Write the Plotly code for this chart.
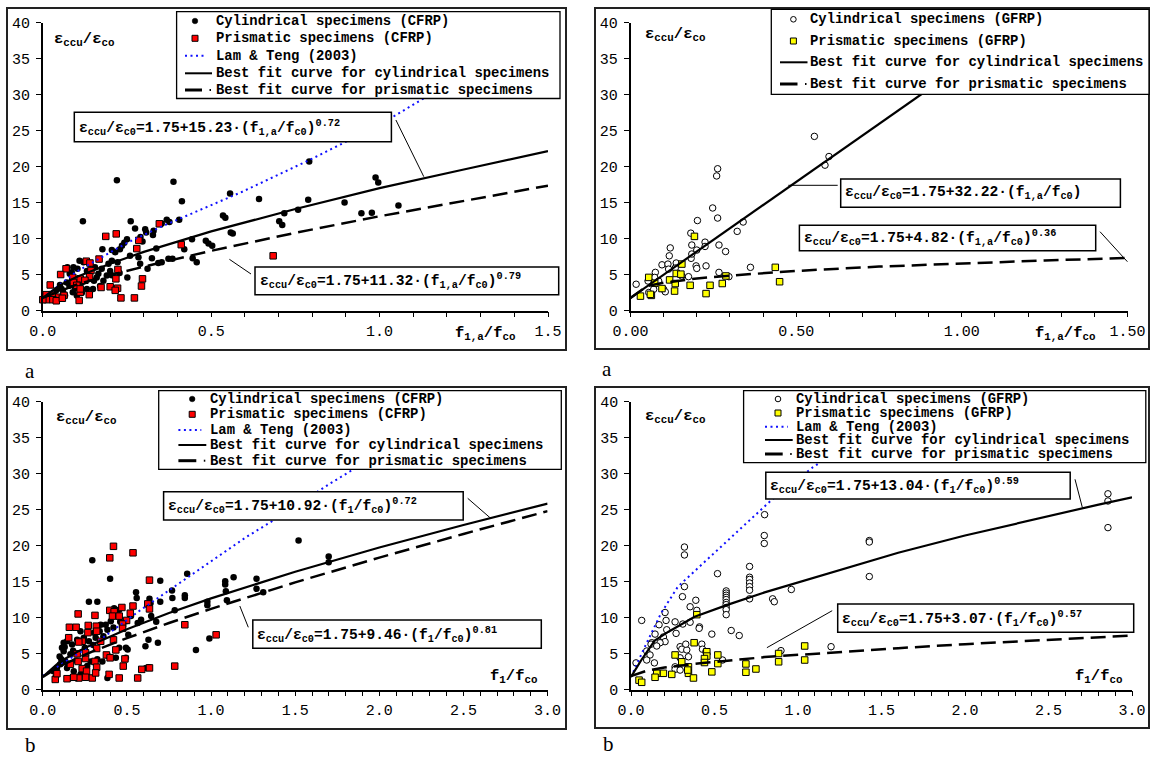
import plotly.graph_objects as go

W, H = 1150, 760
MONO = "Liberation Mono"
SERIF = "Liberation Serif"

# ---------------- data ----------------
# Panel a (left): CFRP, x = f1,a/fco
cfrp_a_cyl = [(0.22,18.1),(0.388,17.9),(0.413,15.2),(0.556,16.25),(0.119,12.4),(0.261,12.4),(0.304,11.3),(0.307,10.85),
    (0.274,11.4),(0.329,11.1),(0.353,12.1),(0.368,12.6),(0.376,12.3),(0.405,12.6),(0.535,13.2),(0.542,12.9),(0.558,10.85),
    (0.564,10.7),(0.25,9.9),(0.242,9.4),(0.235,9.0),(0.327,10.5),(0.443,9.9),(0.484,9.7),(0.492,9.3),(0.503,9.0),(0.42,8.5),
    (0.337,8.6),(0.324,7.25),(0.343,6.6),(0.353,6.7),(0.373,7.2),(0.385,7.2),(0.311,5.8),(0.445,7.25),(0.457,6.7),(0.177,8.5),
    (0.205,8.4),(0.215,8.1),(0.229,8.5),(0.259,7.6),(0.284,7.4),(0.289,6.5),(0.29,10.2),(0.296,9.6),(0.195,6.5),(0.205,6.9),
    (0.222,6.7),(0.109,6.9),(0.121,6.7),(0.141,6.5),(0.155,6.0),(0.175,5.8),(0.091,6.0),(0.073,6.0),(0.103,5.8),(0.086,5.3),
    (0.131,5.5),(0.165,5.1),(0.19,4.85),(0.205,4.9),(0.251,4.6),(0.18,4.15),(0.152,4.15),(0.071,3.9),(0.051,3.55),(0.056,3.0),
    (0.079,3.45),(0.096,3.1),(0.111,3.7),(0.131,3.0),(0.04,2.8),(0.022,2.3),(0.089,2.55),(0.101,2.1),(0.116,2.45),(0.066,2.1),
    (0.032,2.1),(0.149,3.0),(0.17,3.4),(0.16,4.6),(0.228,5.2),(0.2,5.5),(0.14,4.5),(0.12,4.0),(0.06,2.6),(0.08,5.1),
    (0.642,15.5),(0.791,20.7),(0.788,15.4),(0.988,18.5),(0.996,17.8),(0.896,15.0),(0.946,13.5),(0.977,13.6),(1.056,14.6),
    (0.758,14.0),(0.717,13.5),(0.702,12.4),(0.711,11.9)]
cfrp_a_pri = [(0.346,12.05),(0.187,10.3),(0.218,10.65),(0.285,9.75),(0.279,8.6),(0.411,9.15),(0.167,7.15),(0.129,6.85),
    (0.143,5.55),(0.223,5.7),(0.069,5.8),(0.053,5.0),(0.089,4.6),(0.111,4.4),(0.139,4.7),(0.091,3.9),(0.101,3.5),(0.111,2.55),
    (0.217,4.4),(0.296,4.4),(0.293,3.4),(0.173,3.2),(0.2,3.3),(0.222,3.1),(0.215,2.8),(0.138,2.2),(0.022,3.55),(0.01,2.2),
    (0.032,2.1),(0.047,1.85),(0.063,2.1),(0.012,1.5),(0.03,1.5),(0.0,1.5),(0.108,1.4),(0.232,1.75),(0.272,1.75),(0.684,7.6),
    (0.111,3.0),(0.04,1.35),(0.058,1.7),(0.125,4.2),(0.14,6.6)]
cfrp_a_lam_x = [0.0, 0.1, 0.25, 0.354, 0.592, 0.791, 1.0, 1.128, 1.2]
cfrp_a_lam_y = [1.75, 5.4, 9.4, 11.7, 16.5, 20.9, 25.8, 29.4, 31.2]
cfrp_a_fit_cyl_x = [0, 0.05, 0.1, 0.2, 0.3, 0.5, 0.75, 1.0, 1.25, 1.5]
cfrp_a_fit_cyl_y = [1.75, 3.5, 4.65, 6.5, 8.15, 11.0, 14.1, 17.0, 19.6, 22.15]
cfrp_a_fit_pri_x = [0, 0.1, 0.2, 0.3, 0.5, 0.75, 1.0, 1.25, 1.5]
cfrp_a_fit_pri_y = [1.75, 3.6, 4.9, 6.1, 8.3, 10.8, 13.1, 15.25, 17.35]

# Panel a (right): GFRP, x = f1,a/fco
gfrp_a_cyl = [(0.263,19.7),(0.26,18.7),(0.248,14.25),(0.263,12.85),(0.34,12.3),(0.322,11.0),(0.202,12.5),(0.182,10.75),
    (0.185,9.1),(0.12,8.7),(0.117,7.6),(0.225,9.5),(0.225,8.9),(0.2,8.4),(0.267,9.1),(0.287,8.2),(0.183,7.25),(0.185,7.85),
    (0.095,6.35),(0.113,6.45),(0.138,6.6),(0.135,5.9),(0.115,5.75),(0.198,6.2),(0.2,5.85),(0.228,6.2),(0.267,5.3),(0.297,4.7),
    (0.362,6.0),(0.075,5.3),(0.073,4.6),(0.053,4.1),(0.085,4.1),(0.017,3.65),(0.10,2.95),(0.105,2.6),(0.055,2.5),(0.07,2.95),
    (0.175,4.7),(0.155,4.8),(0.555,24.2),(0.587,20.2),(0.599,21.4)]
gfrp_a_pri = [(0.193,10.3),(0.155,6.45),(0.138,5.15),(0.152,5.05),(0.055,4.6),(0.073,3.8),(0.118,4.25),(0.135,3.75),
    (0.18,3.5),(0.095,3.05),(0.133,2.7),(0.03,2.0),(0.063,2.1),(0.24,3.5),(0.228,2.35),(0.277,3.75),(0.288,4.8),(0.437,6.0),
    (0.45,4.0),(0.06,2.25)]
gfrp_a_fit_cyl_x = [0, 0.25, 0.5, 0.75, 1.0, 1.25, 1.5]
gfrp_a_fit_cyl_y = [1.75, 9.8, 17.85, 25.9, 34.0, 42.0, 50.1]
gfrp_a_fit_pri_x = [0, 0.05, 0.1, 0.2, 0.3, 0.5, 0.75, 1.0, 1.25, 1.5]
gfrp_a_fit_pri_y = [1.75, 3.4, 3.85, 4.45, 4.85, 5.5, 6.1, 6.55, 6.95, 7.3]

# Panel b (left): CFRP, x = f1/fco
cfrp_b_cyl = [(0.294,17.96),(0.4,15.4),(0.274,12.2),(0.324,12.2),(0.554,13.5),(0.558,12.7),(0.698,15.1),(0.634,12.6),
    (0.64,12.0),(0.698,12.2),(0.768,13.75),(0.77,12.7),(0.844,13.1),(0.844,12.7),(0.858,16.1),(0.784,11.0),(0.978,12.2),
    (0.978,11.7),(1.084,15.05),(1.084,14.6),(1.134,15.6),(1.088,13.65),(1.094,12.4),(1.27,15.4),(1.27,14.0),(1.31,13.5),
    (0.91,5.5),(0.99,7.1),(0.674,9.4),(0.684,6.5),(0.628,6.9),(0.61,6.0),(0.63,3.1),(0.614,3.0),(0.644,10.2),(0.584,9.7),
    (0.564,9.25),(0.524,10.2),(0.494,9.5),(0.508,7.6),(0.504,5.55),(0.494,4.4),(0.454,11.1),(0.424,11.3),(0.434,10.4),
    (0.404,9.5),(0.374,9.0),(0.384,8.3),(0.344,9.0),(0.338,8.1),(0.304,7.9),(0.314,7.2),(0.274,6.7),(0.244,7.2),(0.224,8.1),
    (0.204,6.9),(0.174,6.25),(0.144,6.7),(0.124,6.5),(0.114,5.8),(0.124,5.3),(0.164,4.9),(0.134,3.9),(0.104,3.5),(0.084,3.0),
    (0.064,2.55),(0.144,3.0),(0.184,2.55),(0.224,2.1),(0.264,3.25),(0.284,3.9),(0.354,3.9),(0.394,4.6),(0.434,4.4),(0.494,5.8),
    (0.454,5.8),(0.384,1.6),(0.324,4.2),(0.164,1.6),(0.204,1.6),(0.074,1.6),(1.52,20.7),(1.699,18.5),(1.699,17.7),
    (0.1,4.6),(0.13,5.9),(0.18,5.4),(0.25,5.8),(0.3,6.2),(0.36,7.4),(0.42,8.6),(0.46,9.4),(0.2,4.0),(0.15,3.5),(0.11,4.2)]
cfrp_b_pri = [(0.42,19.9),(0.398,18.3),(0.536,19.0),(0.634,15.2),(0.47,11.4),(0.536,11.6),(0.624,11.9),(0.634,11.2),
    (0.52,10.6),(0.21,10.5),(0.31,10.3),(0.398,11.0),(0.424,10.8),(0.414,10.2),(0.454,10.2),(0.498,9.6),(0.474,9.1),(0.474,8.5),
    (0.158,8.65),(0.198,8.65),(0.27,8.9),(0.318,8.8),(0.268,7.9),(0.32,8.1),(0.154,7.2),(0.234,6.7),(0.214,6.6),(0.344,6.7),
    (0.42,6.9),(0.844,9.0),(1.03,7.6),(0.32,5.7),(0.434,5.5),(0.378,4.8),(0.40,4.4),(0.488,4.25),(0.31,3.9),(0.254,4.3),
    (0.21,3.9),(0.164,3.5),(0.204,4.95),(0.254,5.1),(0.234,2.9),(0.26,2.55),(0.32,3.1),(0.478,3.25),(0.588,2.8),(0.634,3.0),
    (0.784,3.25),(0.394,2.1),(0.454,1.6),(0.564,1.6),(0.294,1.6),(0.254,1.7),(0.214,1.6),(0.144,1.5),(0.074,1.4),(0.084,2.2),
    (0.184,1.7),(0.314,2.3)]
cfrp_b_lam_x = [0.0, 0.34, 0.578, 0.894, 1.21, 1.37, 1.706, 2.0]
cfrp_b_lam_y = [1.9, 6.9, 11.0, 16.1, 21.2, 23.5, 28.6, 32.8]
cfrp_b_fit_cyl_x = [0, 0.1, 0.2, 0.3, 0.5, 0.75, 1.0, 1.5, 2.0, 2.5, 3.0]
cfrp_b_fit_cyl_y = [1.75, 3.83, 5.18, 6.34, 8.38, 10.63, 12.67, 16.37, 19.74, 22.87, 25.84]
cfrp_b_fit_pri_x = [0, 0.1, 0.2, 0.3, 0.5, 0.75, 1.0, 1.5, 2.0, 2.5, 3.0]
cfrp_b_fit_pri_y = [1.75, 3.22, 4.32, 5.32, 7.14, 9.24, 11.21, 14.89, 18.33, 21.62, 24.79]

# Panel b (right): GFRP, x = f1/fco
gfrp_b_cyl = [(0.8,24.3),(0.798,21.4),(0.798,20.3),(0.32,19.8),(0.32,18.7),(0.32,14.3),(0.308,12.9),(0.064,9.6),(0.204,10.7),
    (0.518,16.1),(0.71,17.1),(0.71,15.6),(0.71,15.3),(0.71,14.8),(0.71,14.3),(0.71,13.8),(0.71,12.6),(0.57,13.7),(0.57,13.4),
    (0.57,13.1),(0.57,12.8),(0.57,12.5),(0.57,12.1),(0.57,11.8),(0.57,11.4),(0.57,11.1),(0.57,10.4),(0.848,12.6),(0.858,12.2),
    (0.96,13.9),(0.354,11.5),(0.388,12.4),(0.394,11.0),(0.41,8.7),(0.408,8.5),(0.484,7.7),(0.6,8.2),(0.648,7.5),(0.548,4.1),
    (0.264,9.4),(0.21,9.6),(0.168,9.0),(0.214,8.3),(0.31,9.1),(0.354,9.35),(0.27,7.8),(0.144,7.7),(0.194,7.3),(0.204,6.65),
    (0.174,6.5),(0.124,6.5),(0.12,6.3),(0.094,5.35),(0.154,6.05),(0.114,4.8),(0.094,4.1),(0.03,3.7),(0.14,3.7),(0.294,5.95),
    (0.304,5.6),(0.334,5.5),(0.294,4.4),(0.328,6.3),(0.264,3.15),(0.264,2.8),(0.294,2.7),(0.424,6.3),(0.428,5.6),(0.448,5.25),
    (0.344,4.55),(0.898,5.4),(1.198,5.95),(2.856,27.2),(2.856,26.2),(2.856,22.5),(1.427,20.7),(1.427,20.5),(1.427,15.7)]
gfrp_b_pri = [(0.394,10.4),(0.378,6.5),(0.264,4.8),(0.304,3.85),(0.344,3.15),(0.344,2.25),(0.374,1.6),(0.244,2.1),(0.194,2.25),
    (0.154,2.25),(0.144,1.7),(0.048,1.3),(0.064,1.0),(0.454,5.25),(0.454,4.65),(0.44,4.3),(0.44,3.75),(0.52,4.8),(0.52,3.6),
    (0.484,2.45),(0.688,3.55),(0.688,2.4),(0.748,2.85),(0.884,5.0),(0.884,3.85),(1.04,6.05),(1.04,4.1),(0.34,2.7)]
gfrp_b_lam_x = [0.0, 0.082, 0.18, 0.281, 0.481, 0.581, 0.681, 0.79, 0.84, 1.09, 1.2]
gfrp_b_lam_y = [1.75, 5.9, 10.6, 14.3, 18.6, 20.75, 22.9, 25.2, 26.3, 30.9, 32.6]
gfrp_b_fit_cyl_x = [0, 0.062, 0.142, 0.222, 0.381, 0.581, 0.8, 1.2, 1.6, 2.0, 2.4, 2.8, 3.0]
gfrp_b_fit_cyl_y = [1.75, 4.1, 6.8, 8.0, 10.1, 11.8, 13.5, 16.3, 19.0, 21.4, 23.6, 25.7, 26.7]
gfrp_b_fit_pri_x = [0, 0.1, 0.2, 0.4, 0.8, 1.2, 1.6, 2.0, 2.4, 2.8, 3.0]
gfrp_b_fit_pri_y = [1.85, 2.65, 3.05, 3.6, 4.5, 5.15, 5.75, 6.3, 6.8, 7.25, 7.5]

y_ticks = [0, 5, 10, 15, 20, 25, 30, 35, 40]

# ---------------- helpers ----------------
def fx(p):
    return p / W

def fy(p):
    return 1 - p / H

fig = go.Figure()

def add_pts(pts, ax, symbol, size, fill, lw):
    fig.add_trace(go.Scatter(
        x=[p[0] for p in pts], y=[p[1] for p in pts], mode="markers",
        xaxis="x" + ax, yaxis="y" + ax, cliponaxis=False, hoverinfo="skip",
        marker=dict(symbol=symbol, size=size, color=fill, line=dict(color="black", width=lw))))

def add_line(xs, ys, ax, color, width, dash):
    fig.add_trace(go.Scatter(
        x=xs, y=ys, mode="lines", xaxis="x" + ax, yaxis="y" + ax, hoverinfo="skip",
        line=dict(color=color, width=width, dash=dash)))

BLUE = "#1010ff"
DOT = "2px,3.5px"
DASH = "15px,7px"

# panel 1 (top-left)
add_pts(cfrp_a_cyl, "", "circle", 6.5, "black", 0)
add_pts(cfrp_a_pri, "", "square", 6.5, "#ff0000", 1)
add_line(cfrp_a_lam_x, cfrp_a_lam_y, "", BLUE, 2, DOT)
add_line(cfrp_a_fit_cyl_x, cfrp_a_fit_cyl_y, "", "black", 2.2, "solid")
add_line(cfrp_a_fit_pri_x, cfrp_a_fit_pri_y, "", "black", 2.5, DASH)
# panel 2 (top-right)
add_pts(gfrp_a_cyl, "2", "circle", 6.5, "white", 1)
add_pts(gfrp_a_pri, "2", "square", 6.5, "#ffff00", 1)
add_line(gfrp_a_fit_cyl_x, gfrp_a_fit_cyl_y, "2", "black", 2.2, "solid")
add_line(gfrp_a_fit_pri_x, gfrp_a_fit_pri_y, "2", "black", 2.5, DASH)
# panel 3 (bottom-left)
add_pts(cfrp_b_cyl, "3", "circle", 6.5, "black", 0)
add_pts(cfrp_b_pri, "3", "square", 6.5, "#ff0000", 1)
add_line(cfrp_b_lam_x, cfrp_b_lam_y, "3", BLUE, 2, DOT)
add_line(cfrp_b_fit_cyl_x, cfrp_b_fit_cyl_y, "3", "black", 2.2, "solid")
add_line(cfrp_b_fit_pri_x, cfrp_b_fit_pri_y, "3", "black", 2.5, DASH)
# panel 4 (bottom-right)
add_pts(gfrp_b_cyl, "4", "circle", 6.5, "white", 1)
add_pts(gfrp_b_pri, "4", "square", 6.5, "#ffff00", 1)
add_line(gfrp_b_lam_x, gfrp_b_lam_y, "4", BLUE, 2, DOT)
add_line(gfrp_b_fit_cyl_x, gfrp_b_fit_cyl_y, "4", "black", 2.2, "solid")
add_line(gfrp_b_fit_pri_x, gfrp_b_fit_pri_y, "4", "black", 2.5, DASH)

# ---------------- axes ----------------
TICKFONT = dict(family=MONO, size=15, color="black")

def x_axis(px0, px1, xmax, fmt, anchor):
    return dict(domain=[fx(px0), fx(px1)], range=[0, xmax], anchor=anchor, automargin=False,
                showline=True, linecolor="black", linewidth=1.5, ticks="outside", ticklen=5,
                tickwidth=1.2, tickcolor="black", tick0=0, dtick=0.5, tickformat=fmt,
                showgrid=False, zeroline=False, tickfont=TICKFONT, ticklabelstandoff=1,
                minor=dict(dtick=0.1, tick0=0, ticks="outside", ticklen=5, tickwidth=1.2,
                           tickcolor="black", showgrid=False),
                fixedrange=True)

def y_axis(py0, py1, anchor):
    return dict(domain=[fy(py0), fy(py1)], range=[0, 40], anchor=anchor, automargin=False,
                showline=True, linecolor="black", linewidth=1.5, ticks="outside", ticklen=5,
                tickwidth=1.2, tickcolor="black", tickvals=y_ticks,
                ticktext=[str(v) for v in y_ticks],
                showgrid=False, zeroline=False, tickfont=TICKFONT, ticklabelstandoff=3,
                fixedrange=True)

layout = dict(
    width=W, height=H, autosize=False, showlegend=False,
    margin=dict(l=0, r=0, t=0, b=0, pad=0, autoexpand=False),
    paper_bgcolor="white", plot_bgcolor="white",
    xaxis=x_axis(42.8, 548.0, 1.5, ".1f", "y"),
    yaxis=y_axis(310.5, 22.7, "x"),
    xaxis2=x_axis(630.5, 1127.5, 1.5, ".2f", "y2"),
    yaxis2=y_axis(310.5, 22.7, "x2"),
    xaxis3=x_axis(42.8, 547.6, 3.0, ".1f", "y3"),
    yaxis3=y_axis(689.5, 401.7, "x3"),
    xaxis4=x_axis(631.0, 1132.0, 3.0, ".1f", "y4"),
    yaxis4=y_axis(689.5, 401.7, "x4"),
)
fig.update_layout(**layout)

shapes = []
annos = []

def rect(x0, y0, x1, y1, lw=1.5, color="black", fill="white"):
    shapes.append(dict(type="rect", xref="paper", yref="paper", layer="above",
                       x0=fx(x0), x1=fx(x1), y0=fy(y1), y1=fy(y0),
                       line=dict(color=color, width=lw), fillcolor=fill))

def seg(x0, y0, x1, y1, lw=1, color="black", dash="solid"):
    shapes.append(dict(type="line", xref="paper", yref="paper", layer="above",
                       x0=fx(x0), x1=fx(x1), y0=fy(y0), y1=fy(y1),
                       line=dict(color=color, width=lw, dash=dash)))

def text(x, y, s, size, bold=True, family=MONO, xanchor="left"):
    annos.append(dict(xref="paper", yref="paper", x=fx(x), y=fy(y), text=s, showarrow=False,
                      xanchor=xanchor, yanchor="middle",
                      font=dict(family=family, size=size, color="black",
                                weight="bold" if bold else "normal")))

# outer chart frames
for (x0, y0, x1, y1) in [(7, 8, 566, 350), (595, 8, 1149, 349), (7, 387, 566, 729), (595, 387, 1149, 728)]:
    shapes.append(dict(type="rect", xref="paper", yref="paper", layer="below",
                       x0=fx(x0), x1=fx(x1), y0=fy(y1), y1=fy(y0),
                       line=dict(color="#222", width=2), fillcolor="rgba(0,0,0,0)"))

# legends
def legend(box, sym_x, line_x0, line_x1, text_x, entries):
    rect(*box, lw=1.3)
    for kind, yy, label in entries:
        if kind == "dot":
            shapes.append(dict(type="circle", xref="paper", yref="paper", layer="above",
                               x0=fx(sym_x - 2.8), x1=fx(sym_x + 2.8), y0=fy(yy + 2.8), y1=fy(yy - 2.8),
                               line=dict(color="black", width=0.5), fillcolor="black"))
        elif kind == "ocircle":
            shapes.append(dict(type="circle", xref="paper", yref="paper", layer="above",
                               x0=fx(sym_x - 2.8), x1=fx(sym_x + 2.8), y0=fy(yy + 2.8), y1=fy(yy - 2.8),
                               line=dict(color="black", width=1), fillcolor="white"))
        elif kind in ("rsq", "ysq"):
            shapes.append(dict(type="rect", xref="paper", yref="paper", layer="above",
                               x0=fx(sym_x - 3), x1=fx(sym_x + 3), y0=fy(yy + 3), y1=fy(yy - 3),
                               line=dict(color="black", width=1),
                               fillcolor="#ff0000" if kind == "rsq" else "#ffff00"))
        elif kind == "lam":
            seg(line_x0, yy, line_x1 - 5, yy, lw=2, color=BLUE, dash=DOT)
        elif kind == "solid":
            seg(line_x0, yy, line_x1, yy, lw=2)
        elif kind == "dash":
            seg(line_x0, yy, line_x1 - 10, yy, lw=3)
            seg(line_x1 - 2.5, yy, line_x1 - 1, yy, lw=2)
        text(text_x, yy, label, 13.9)

legend((176.6, 11.7, 560, 98.5), 195, 185, 212, 213.5, [
    ("dot", 21, "Cylindrical specimens (CFRP)"),
    ("rsq", 38.3, "Prismatic specimens (CFRP)"),
    ("lam", 55.7, "Lam &amp; Teng (2003)"),
    ("solid", 73.3, "Best fit curve for cylindrical specimens"),
    ("dash", 90, "Best fit curve for prismatic specimens")])
legend((771.3, 9.3, 1149, 94.3), 793.4, 780, 807.5, 808.2, [
    ("ocircle", 19.3, "Cylindrical specimens (GFRP)"),
    ("ysq", 41, "Prismatic specimens (GFRP)"),
    ("solid", 62.3, "Best fit curve for cylindrical specimens"),
    ("dash", 84, "Best fit curve for prismatic specimens")])
legend((158.7, 390.7, 561.3, 469.3), 192.2, 178.4, 206.3, 208.2, [
    ("dot", 399, "Cylindrical specimens (CFRP)"),
    ("rsq", 414.3, "Prismatic specimens (CFRP)"),
    ("lam", 430, "Lam &amp; Teng (2003)"),
    ("solid", 445, "Best fit curve for cylindrical specimens"),
    ("dash", 460.7, "Best fit curve for prismatic specimens")])
legend((743.6, 390.7, 1145.8, 462.7), 778, 765, 792.7, 793.8, [
    ("ocircle", 399, "Cylindrical specimens (GFRP)"),
    ("ysq", 413, "Prismatic specimens (GFRP)"),
    ("lam", 426.7, "Lam &amp; Teng (2003)"),
    ("solid", 440, "Best fit curve for cylindrical specimens"),
    ("dash", 454, "Best fit curve for prismatic specimens")])

# equation boxes with leader lines
EPS = "ε<sub>ccu</sub>/ε<sub>c0</sub>="
eqs = [
    ((74.3, 112.3, 391.4, 141.7), 76.5, EPS + "1.75+15.23·(f<sub>1,a</sub>/f<sub>c0</sub>)<sup>0.72</sup>", (395.9, 120, 423.8, 176.7)),
    ((255, 267, 558.7, 294.7), 257.6, EPS + "1.75+11.32·(f<sub>1,a</sub>/f<sub>c0</sub>)<sup>0.79</sup>", (229.4, 259.3, 251, 274)),
    ((840.7, 179, 1120.4, 207.3), 843.3, EPS + "1.75+32.22·(f<sub>1,a</sub>/f<sub>c0</sub>)", (788.3, 185.3, 837.7, 185.3)),
    ((799.4, 225.3, 1095.7, 250.7), 801.6, EPS + "1.75+4.82·(f<sub>1,a</sub>/f<sub>c0</sub>)<sup>0.36</sup>", (1100, 231.7, 1127.4, 261.7)),
    ((163.6, 491.7, 463.2, 520), 166.2, EPS + "1.75+10.92·(f<sub>1</sub>/f<sub>c0</sub>)<sup>0.72</sup>", (467.7, 498.3, 490, 517.7)),
    ((252.8, 620, 541.3, 648.3), 255, EPS + "1.75+9.46·(f<sub>1</sub>/f<sub>c0</sub>)<sup>0.81</sup>", (239.8, 606, 248.3, 627.3)),
    ((765.8, 472.3, 1070.2, 499), 767.6, EPS + "1.75+13.04·(f<sub>1</sub>/f<sub>c0</sub>)<sup>0.59</sup>", (1075, 479.3, 1082.4, 507.7)),
    ((837.7, 604, 1133.7, 632.3), 840, EPS + "1.75+3.07·(f<sub>1</sub>/f<sub>c0</sub>)<sup>0.57</sup>", (832.2, 610.7, 766.9, 647.7)),
]
for box, tx, s, ld in eqs:
    rect(*box, lw=1.5)
    seg(*ld, lw=1)
    text(tx, (box[1] + box[3]) / 2, s, 14.6)

# axis titles
YT = "ε<sub>ccu</sub>/ε<sub>co</sub>"
for (x, y) in [(52, 40), (643, 34), (54, 417), (642.5, 416)]:
    text(x, y, YT, 15.5)
text(452.8, 334, "f<sub>1,a</sub>/f<sub>co</sub>", 15.5)
text(1032.6, 334, "f<sub>1,a</sub>/f<sub>co</sub>", 15.5)
text(487.7, 676, "f<sub>1</sub>/f<sub>co</sub>", 15.5)
text(1073, 676, "f<sub>1</sub>/f<sub>co</sub>", 15.5)

# panel letters
text(30, 371, "a", 21, bold=False, family=SERIF, xanchor="center")
text(607, 369, "a", 21, bold=False, family=SERIF, xanchor="center")
text(30, 745, "b", 21, bold=False, family=SERIF, xanchor="center")
text(608, 744, "b", 21, bold=False, family=SERIF, xanchor="center")

fig.update_layout(shapes=shapes, annotations=annos)
fig.write_html("out.html", config={"displayModeBar": False},
               post_script="document.body.style.margin='0';document.body.style.overflow='hidden';")
